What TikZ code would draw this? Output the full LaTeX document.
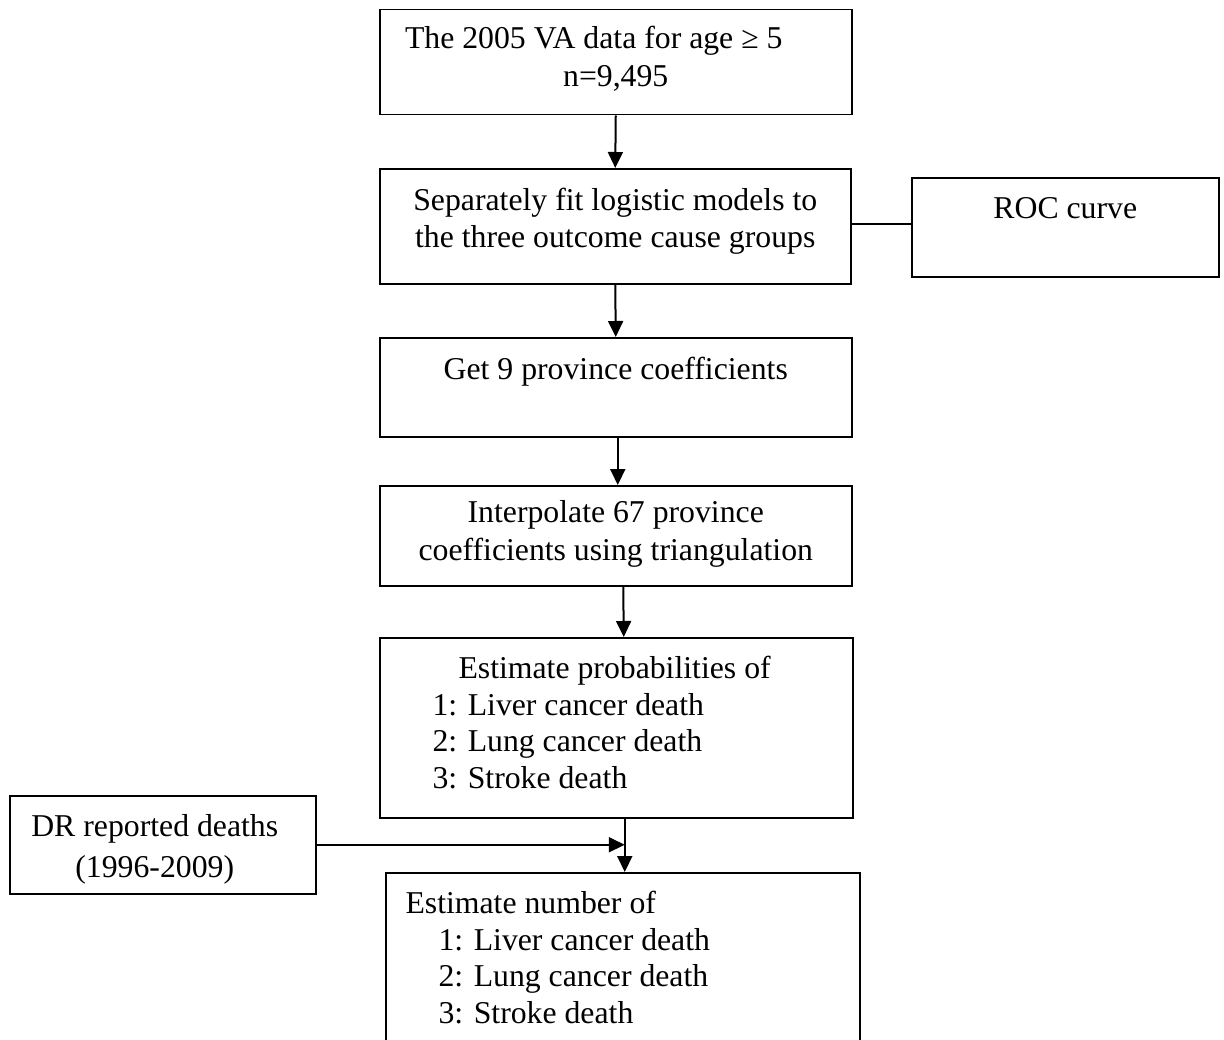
\documentclass[tikz,border=0pt]{standalone}
\usepackage{fontspec}
\setmainfont{Liberation Serif}
\usetikzlibrary{arrows.meta}

\newcommand{\unitpx}{0.4pt}
\tikzset{
  flowbox/.style={draw, line width=0.6pt, inner sep=0pt, anchor=north west},
  boxtext/.style={anchor=north, align=center, inner sep=0pt, font=\fontsize{12.7}{14.6}\selectfont},
  listtext/.style={boxtext, anchor=north west, align=left},
  flowarrow/.style={line width=0.8pt, -{Triangle[length=6.4pt, width=6pt]}},
}

\begin{document}
\begin{tikzpicture}[x=\unitpx, y=-\unitpx]
  \useasboundingbox (0,0) rectangle (1224,1039);
  % main chain of steps
  \node[flowbox, minimum width=472*\unitpx, minimum height=105*\unitpx,
        label={[boxtext, yshift=-17*\unitpx, font=\fontsize{12.7}{15.2}\selectfont]north:The 2005 VA data for age ≥ 5\hspace*{17.6pt}\\n=9,495}] (data) at (379,9) {};
  \node[flowbox, minimum width=471*\unitpx, minimum height=115*\unitpx,
        label={[boxtext, yshift=-20*\unitpx]north:Separately fit logistic models to\\the three outcome cause groups}] (fit) at (379,168) {};
  \node[flowbox, minimum width=472*\unitpx, minimum height=99*\unitpx,
        label={[boxtext, yshift=-20*\unitpx]north:Get 9 province coefficients}] (coef) at (379,337) {};
  \node[flowbox, minimum width=472*\unitpx, minimum height=100*\unitpx,
        label={[boxtext, yshift=-15*\unitpx, font=\fontsize{12.7}{15.2}\selectfont]north:Interpolate 67 province\\coefficients using triangulation}] (interp) at (379,485) {};
  \node[flowbox, minimum width=473*\unitpx, minimum height=180*\unitpx,
        label={[listtext, xshift=53*\unitpx, yshift=-19*\unitpx]north west:\hspace*{10.4pt}Estimate probabilities of\\1: Liver cancer death\\2: Lung cancer death\\3: Stroke death}] (prob) at (379,637) {};
  \node[flowbox, minimum width=474*\unitpx, minimum height=175*\unitpx,
        label={[listtext, xshift=20*\unitpx, yshift=-19*\unitpx]north west:Estimate number of\\\hspace*{13.2pt}1: Liver cancer death\\\hspace*{13.2pt}2: Lung cancer death\\\hspace*{13.2pt}3: Stroke death}] (num) at (385,872) {};
  % side boxes
  \node[flowbox, minimum width=307*\unitpx, minimum height=99*\unitpx,
        label={[boxtext, yshift=-20*\unitpx]north:ROC curve}] (roc) at (911,177) {};
  \node[flowbox, minimum width=306*\unitpx, minimum height=98*\unitpx,
        label={[boxtext, xshift=-8*\unitpx, yshift=-19*\unitpx, font=\fontsize{12.7}{16.4}\selectfont]north:DR reported deaths\\(1996-2009)}] (dr) at (9,795) {};

  \draw[flowarrow] (data.south) -- (fit.north);
  \draw[flowarrow] (fit.south) -- (coef.north);
  \draw[flowarrow] ([xshift=0.8pt]coef.south) -- ([xshift=0.8pt]interp.north);
  \draw[flowarrow] ([xshift=3pt]interp.south) -- ([xshift=3pt]prob.north);
  \coordinate (join) at ([xshift=3.4pt]prob.south);
  \draw[flowarrow] (join) -- (join |- num.north);
  \draw[flowarrow] (dr.east) -- (dr.east -| join);
  \draw[line width=0.6pt] ([yshift=1pt]fit.east) -- ([yshift=1pt]fit.east -| roc.west);
\end{tikzpicture}
\end{document}
